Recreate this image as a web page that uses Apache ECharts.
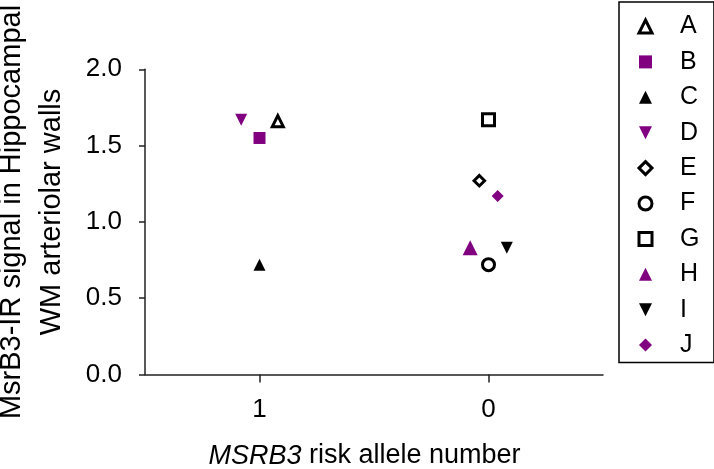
<!DOCTYPE html>
<html>
<head>
<meta charset="utf-8">
<script src="https://cdn.jsdelivr.net/npm/echarts@6/dist/echarts.min.js"></script>
<style>html,body{margin:0;padding:0;background:#fff}#c{width:714px;height:469px}</style>
</head>
<body>
<div id="c"></div>
<script>
// ---- data ----
const categories = ['1', '0'];
const names = ['A', 'B', 'C', 'D', 'E', 'F', 'G', 'H', 'I', 'J'];
const groupIndex = [0, 0, 0, 0, 1, 1, 1, 1, 1, 1];
const jitter = [0.08, 0, 0, -0.08, -0.04, 0, 0, -0.08, 0.08, 0.04];
const values = [1.66, 1.55, 0.72, 1.67, 1.27, 0.72, 1.67, 0.83, 0.83, 1.17];
const yTickValues = [0, 0.5, 1.0, 1.5, 2.0];
const yTitleLines = ['MsrB3-IR signal in Hippocampal', 'WM arteriolar walls'];
const xTitleItalic = 'MSRB3';
const xTitleRest = ' risk allele number';

// ---- styles ----
const FONT = '"Liberation Sans", Arial, sans-serif';
const PURPLE = '#800080';
const DOWN = 'path://M0,0L2,0L1,2Z';
const marker = {
  A: {symbol: 'triangle', size: 11, fill: '#fff', stroke: '#000', bw: 3},
  B: {symbol: 'rect', size: 12, fill: PURPLE, stroke: null, bw: 0},
  C: {symbol: 'triangle', size: 12, fill: '#000', stroke: null, bw: 0},
  D: {symbol: DOWN, size: 12, fill: PURPLE, stroke: null, bw: 0},
  E: {symbol: 'diamond', size: 10.5, fill: '#fff', stroke: '#000', bw: 3},
  F: {symbol: 'circle', size: 12, fill: '#fff', stroke: '#000', bw: 3},
  G: {symbol: 'rect', size: 12, fill: '#fff', stroke: '#000', bw: 3},
  H: {symbol: 'triangle', size: 15, fill: PURPLE, stroke: null, bw: 0},
  I: {symbol: DOWN, size: 12, fill: '#000', stroke: null, bw: 0},
  J: {symbol: 'diamond', size: 12, fill: PURPLE, stroke: null, bw: 0}
};

const series = names.map((n, i) => {
  const m = marker[n];
  return {
    name: n,
    type: 'scatter',
    xAxisIndex: 1,
    yAxisIndex: 0,
    symbol: m.symbol,
    symbolSize: m.size,
    itemStyle: {color: m.fill, borderColor: m.stroke || m.fill, borderWidth: m.bw, opacity: 1},
    emphasis: {disabled: true},
    data: [[groupIndex[i] + 0.5 + jitter[i], values[i]]]
  };
});

const legendData = names.map(n => {
  const m = marker[n];
  return {
    name: n,
    icon: m.symbol,
    itemStyle: {color: m.fill, borderColor: m.stroke || m.fill, borderWidth: m.bw}
  };
});

const axisLine = {show: true, lineStyle: {color: '#222', width: 1.5}};

const chart = echarts.init(document.getElementById('c'), null, {renderer: 'canvas'});
chart.setOption({
  animation: false,
  backgroundColor: '#fff',
  grid: {left: 145, right: 111, top: 69.3, bottom: 94.5, containLabel: false},
  xAxis: [
    {
      type: 'category',
      data: categories,
      boundaryGap: true,
      axisLine: axisLine,
      axisTick: {show: true, alignWithLabel: true, length: 8, lineStyle: {color: '#222', width: 1.5}},
      axisLabel: {color: '#000', fontSize: 26, fontFamily: FONT, margin: 22},
      splitLine: {show: false}
    },
    {
      type: 'value', min: 0, max: 2, show: false, splitLine: {show: false}
    }
  ],
  yAxis: [{
    type: 'value',
    min: yTickValues[0],
    max: yTickValues[yTickValues.length - 1],
    interval: yTickValues[1] - yTickValues[0],
    axisLine: axisLine,
    axisTick: {show: true, length: 6, lineStyle: {color: '#222', width: 1.5}},
    axisLabel: {color: '#000', fontSize: 26, fontFamily: FONT, margin: 23, formatter: v => v.toFixed(1)},
    splitLine: {show: false}
  }],
  legend: {
    orient: 'vertical',
    left: 619,
    top: 2,
    padding: [12, 14.5, 5, 18.5],
    itemWidth: 13,
    itemHeight: 13,
    itemGap: 10.4,
    borderColor: '#000',
    borderWidth: 1.5,
    selectedMode: false,
    data: legendData,
    textStyle: {color: '#000', fontSize: 25, fontFamily: FONT, lineHeight: 25, padding: [0, 0, 0, 23]}
  },
  graphic: [
    {
      type: 'text', x: 12, y: 212, rotation: Math.PI / 2,
      style: {text: yTitleLines[0], fontSize: 29, fontFamily: FONT, fill: '#000', align: 'center', verticalAlign: 'middle'}
    },
    {
      type: 'text', x: 52, y: 212, rotation: Math.PI / 2,
      style: {text: yTitleLines[1], fontSize: 29, fontFamily: FONT, fill: '#000', align: 'center', verticalAlign: 'middle'}
    },
    {
      type: 'text', x: 364.5, y: 456,
      style: {
        text: '{i|' + xTitleItalic + '}{n|' + xTitleRest + '}',
        align: 'center', verticalAlign: 'middle', fill: '#000',
        fontSize: 27, fontFamily: FONT,
        rich: {
          i: {fontStyle: 'italic', fontSize: 27, fontFamily: FONT, fill: '#000'},
          n: {fontSize: 27, fontFamily: FONT, fill: '#000'}
        }
      }
    }
  ],
  series: series
});
</script>
</body>
</html>
